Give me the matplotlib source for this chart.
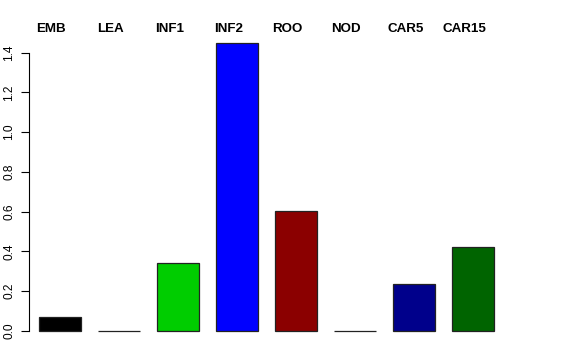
import numpy as np
import matplotlib.pyplot as plt
from matplotlib import transforms

plt.rcParams['font.family'] = ['Liberation Sans', 'DejaVu Sans']

tissues = ['EMB', 'LEA', 'INF1', 'INF2', 'ROO', 'NOD', 'CAR5', 'CAR15']
values = [0.07, 0.0, 0.34, 1.447, 0.604, 0.0, 0.236, 0.423]
colors = ['#000000', '#FFA500', '#00CD00', '#0000FF', '#8B0000', '#A020F0', '#00008B', '#006400']

W, H = 576, 360
fig = plt.figure(figsize=(W / 100, H / 100), dpi=100)

# pixel geometry of the plot region
x_axis = 29.3
x_right = 545.0
y0_px = 330.7          # y = 0
px_per_unit = 198.5
ytop = 1.5
c0, pitch = 59.5, 59.07

ax = fig.add_axes([x_axis / W, 1 - y0_px / H, (x_right - x_axis) / W, ytop * px_per_unit / H])
ax.set_xlim((x_axis - c0) / pitch, (x_right - c0) / pitch)
ax.set_ylim(0, ytop)

x = np.arange(len(tissues))
ax.bar(x, values, width=42 / pitch, color=colors, edgecolor='#222222', linewidth=0.9, clip_on=False)

for s in ['top', 'right', 'bottom']:
    ax.spines[s].set_visible(False)
ax.spines['left'].set_bounds(0, 1.4)
ax.spines['left'].set_linewidth(0.8)
ax.set_xticks([])
yt = np.arange(0, 1.41, 0.2)
ax.set_yticks(yt)
ax.set_yticklabels(['%.1f' % v for v in yt], rotation=90, va='center', fontsize=8.6)
ax.tick_params(axis='y', length=6, width=0.8, pad=4)

# labels above the bars
trans = transforms.blended_transform_factory(ax.transData, fig.transFigure)
for i, t in enumerate(tissues):
    ax.text(i - 8.5 / pitch, 1 - 29 / H, t, transform=trans,
            ha='center', va='center', fontsize=9.6, fontweight='bold')

fig.savefig('out.png', dpi=100)
